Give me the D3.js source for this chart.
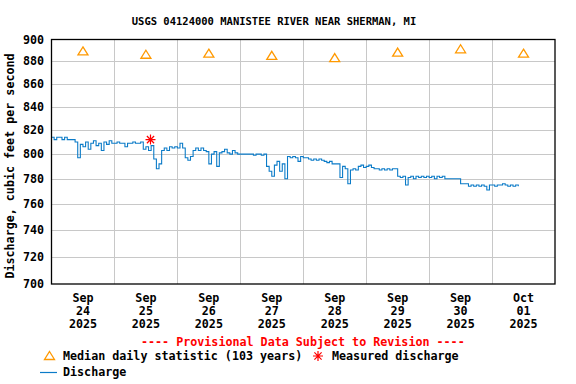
<!DOCTYPE html>
<html>
<head>
<meta charset="utf-8">
<script src="https://cdn.jsdelivr.net/npm/d3@7"></script>
<style>
  body { margin: 0; background: #fff; }
  text { font-family: "DejaVu Sans Mono", monospace; font-weight: bold; }
</style>
</head>
<body>
<div id="app"></div>
<script>
// hourly discharge readings (cfs) starting Sep 24 2025 00:00
let sep24 = [814, 812, 814, 814, 812, 814, 812, 812, 812, 810, 797, 808, 806, 810, 804, 809, 811, 807, 809, 803, 810, 808, 811, 809];
let sep25 = [809, 810, 809, 809, 806, 809, 809, 810, 809, 809, 810, 804, 806, 803, 807, 796, 788, 792, 803, 805, 803, 806, 805, 806];
let sep26 = [805, 809, 805, 797, 795, 798, 803, 805, 803, 805, 803, 802, 792, 800, 802, 790, 801, 802, 804, 801, 800, 803, 801, 800];
let sep27 = [800, 800, 800, 800, 800, 799, 800, 800, 799, 800, 790, 786, 782, 791, 794, 786, 792, 780, 798, 797, 798, 797, 794, 798];
let sep28 = [797, 797, 796, 795, 796, 795, 796, 795, 794, 793, 794, 792, 792, 792, 781, 790, 788, 776, 787, 788, 787, 790, 791, 789];
let sep29 = [790, 791, 789, 788, 788, 787, 788, 787, 788, 787, 788, 788, 782, 781, 782, 775, 781, 782, 780, 782, 781, 782, 781, 782];
let sep30 = [781, 782, 780, 782, 781, 782, 780, 780, 780, 780, 780, 780, 776, 776, 776, 774, 775, 774, 775, 774, 775, 774, 771, 775];
let oct01 = [775, 774, 775, 775, 776, 775, 774, 775, 774, 775, 774];

let dayLabels = [['Sep', '24', '2025'], ['Sep', '25', '2025'], ['Sep', '26', '2025'], ['Sep', '27', '2025'],
                 ['Sep', '28', '2025'], ['Sep', '29', '2025'], ['Sep', '30', '2025'], ['Oct', '01', '2025']];
let medians = [889, 886, 887, 885, 883, 888, 891, 887];
let measured = [{ time: new Date(2025, 8, 25, 13, 45), value: 812 }];
let yTicks = [700, 720, 740, 760, 780, 800, 820, 840, 860, 880, 900];

let width = 576;
let height = 384;
let plotLeft = 51.5, plotRight = 555, plotTop = 39.5, plotBottom = 284;

let start = new Date(2025, 8, 24);
let end = new Date(2025, 9, 2);
let flow = [].concat(sep24, sep25, sep26, sep27, sep28, sep29, sep30, oct01)
  .map(function(v, i) { return { time: d3.timeHour.offset(start, i), value: v }; });
let days = d3.timeDay.range(start, end);

let xScale = d3.scaleTime().domain([start, end]).range([plotLeft, plotRight]);
let yScale = d3.scaleLog().domain([700, 900]).range([plotBottom, plotTop]);

let svg = d3.select('#app').append('svg')
  .attr('width', width)
  .attr('height', height)
  .style('display', 'block');

svg.append('text')
  .attr('x', 274).attr('y', 25)
  .attr('text-anchor', 'middle')
  .style('font-size', '10.5px')
  .text('USGS 04124000 MANISTEE RIVER NEAR SHERMAN, MI');

// grid
svg.append('g').selectAll('line')
  .data(yTicks.slice(1, -1))
  .enter().append('line')
    .attr('x1', plotLeft).attr('x2', plotRight)
    .attr('y1', function(d) { return Math.round(yScale(d)) + 0.5; })
    .attr('y2', function(d) { return Math.round(yScale(d)) + 0.5; })
    .attr('stroke', '#c8c8c8');

svg.append('g').selectAll('line')
  .data(days.slice(1))
  .enter().append('line')
    .attr('y1', plotTop).attr('y2', plotBottom)
    .attr('x1', function(d) { return Math.round(xScale(d)) + 0.5; })
    .attr('x2', function(d) { return Math.round(xScale(d)) + 0.5; })
    .attr('stroke', '#c8c8c8');

// y tick labels
svg.append('g').selectAll('text')
  .data(yTicks)
  .enter().append('text')
    .attr('x', 44)
    .attr('y', function(d) { return yScale(d) + 4; })
    .attr('text-anchor', 'end')
    .style('font-size', '11.7px')
    .text(function(d) { return d; });

svg.append('text')
  .attr('transform', 'translate(14,166) rotate(-90)')
  .attr('text-anchor', 'middle')
  .style('font-size', '11.7px')
  .text('Discharge, cubic feet per second');

// x tick labels at noon
let xLab = svg.append('g').selectAll('text')
  .data(dayLabels)
  .enter().append('text')
    .attr('text-anchor', 'middle')
    .style('font-size', '11.7px');
xLab.selectAll('tspan')
  .data(function(d, i) { return d.map(function(s) { return { s: s, i: i }; }); })
  .enter().append('tspan')
    .attr('x', function(d) { return xScale(d3.timeHour.offset(days[d.i], 12)); })
    .attr('y', function(d, j) { return 302 + j * 13; })
    .text(function(d) { return d.s; });

// discharge line
let line = d3.line()
  .x(function(d) { return xScale(d.time); })
  .y(function(d) { return yScale(d.value); })
  .curve(d3.curveStepAfter);

svg.append('path')
  .datum(flow)
  .attr('d', line)
  .attr('fill', 'none')
  .attr('stroke', '#0b7bc8')
  .attr('stroke-width', 1.1);

// median triangles
let tri = 'M0,-4.5L5,3.5L-5,3.5Z';
svg.append('g').selectAll('path')
  .data(medians)
  .enter().append('path')
    .attr('d', tri)
    .attr('transform', function(d, i) {
      return 'translate(' + xScale(d3.timeHour.offset(days[i], 12)) + ',' + yScale(d) + ')';
    })
    .attr('fill', 'none')
    .attr('stroke', '#ff9900')
    .attr('stroke-width', 1.3);

// measured
let star = 'M-5,0L5,0M0,-5L0,5M-3.6,-3.6L3.6,3.6M-3.6,3.6L3.6,-3.6';
svg.append('g').selectAll('path')
  .data(measured)
  .enter().append('path')
    .attr('d', star)
    .attr('transform', function(d) { return 'translate(' + xScale(d.time) + ',' + yScale(d.value) + ')'; })
    .attr('stroke', '#ff0000')
    .attr('stroke-width', 1.2);

// frame
svg.append('rect')
  .attr('x', plotLeft).attr('y', plotTop)
  .attr('width', plotRight - plotLeft).attr('height', plotBottom - plotTop)
  .attr('fill', 'none')
  .attr('stroke', '#000')
  .attr('stroke-width', 1.3);

// footnote and legend
svg.append('text')
  .attr('x', 141).attr('y', 346)
  .attr('fill', '#ff0000')
  .style('font-size', '11.7px')
  .text('---- Provisional Data Subject to Revision ----');

svg.append('path').attr('d', tri)
  .attr('transform', 'translate(49.5,356)')
  .attr('fill', 'none').attr('stroke', '#ff9900').attr('stroke-width', 1.3);
svg.append('text').attr('x', 63).attr('y', 360).style('font-size', '11.7px')
  .text('Median daily statistic (103 years)');

svg.append('path').attr('d', star)
  .attr('transform', 'translate(318,356)')
  .attr('stroke', '#ff0000').attr('stroke-width', 1.2);
svg.append('text').attr('x', 332).attr('y', 360).style('font-size', '11.7px')
  .text('Measured discharge');

svg.append('line')
  .attr('x1', 40).attr('x2', 57).attr('y1', 372.5).attr('y2', 372.5)
  .attr('stroke', '#0b7bc8').attr('stroke-width', 1.2);
svg.append('text').attr('x', 63).attr('y', 376).style('font-size', '11.7px')
  .text('Discharge');
</script>
</body>
</html>
